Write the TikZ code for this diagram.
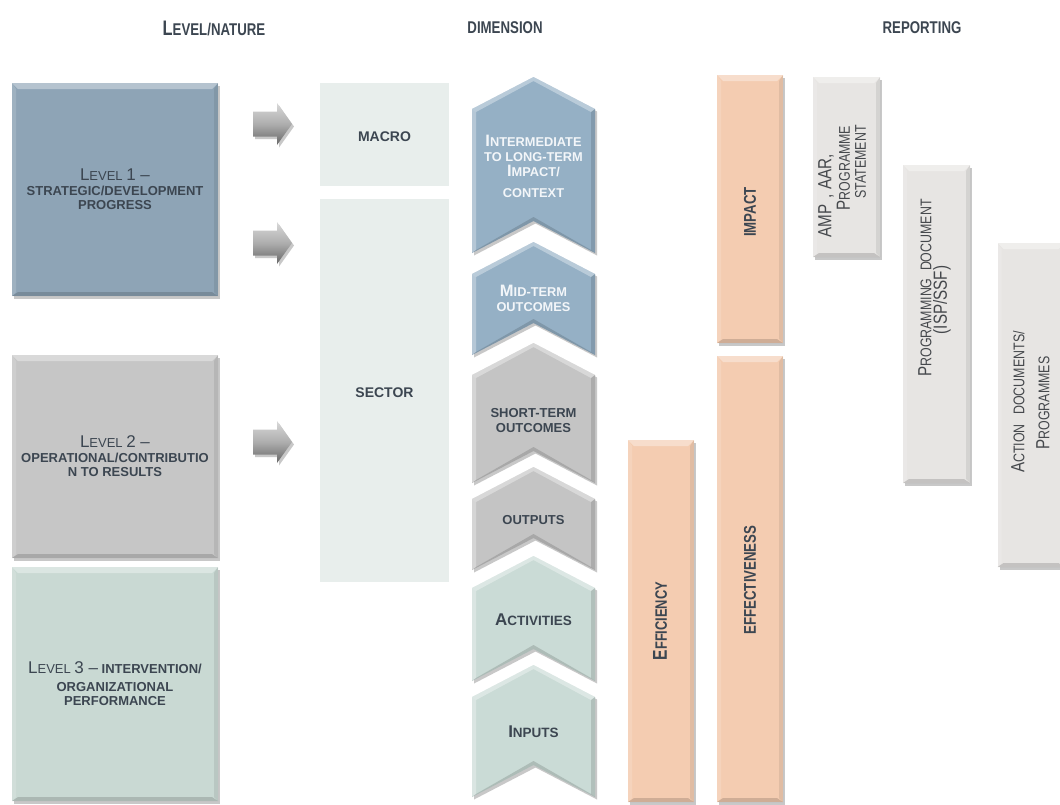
\documentclass[tikz,border=0pt]{standalone}
\usepackage{fontspec}
\setmainfont{Liberation Sans}
\newfontfamily\condf{Liberation Sans}[FakeStretch=0.78]
\newfontfamily\repf{Liberation Sans}[FakeStretch=0.8]
\usetikzlibrary{shadows}
\definecolor{txtc}{HTML}{3C4651}
\definecolor{lvA}{HTML}{8EA4B6}
\definecolor{lvB}{HTML}{C6C6C6}
\definecolor{lvC}{HTML}{C9D9D3}
\definecolor{pale}{HTML}{E8EEEC}
\definecolor{chA}{HTML}{95B0C5}
\definecolor{chB}{HTML}{C4C4C4}
\definecolor{chC}{HTML}{CADBD6}
\definecolor{peach}{HTML}{F4CCB1}
\definecolor{repc}{HTML}{E7E5E3}
\definecolor{reptxt}{HTML}{45484C}
\definecolor{whtxt}{HTML}{F3F6F9}
\newcommand\Cap[2]{{\fontsize{#1}{#1}\selectfont #2}}
\newcommand\chev[4]{%
  \fill[#3, shadowed] (472,#1+32) -- (533.5,#1) -- (595,#1+32) -- (595,#2) -- (533.5,#2-32) -- (472,#2) -- cycle;
  \fill[white,opacity=.35] (472,#1+32) -- (533.5,#1) -- (595,#1+32) -- (591,#1+35) -- (533.5,#1+4) -- (476,#1+35) -- cycle;
  \fill[white,opacity=.3] (472,#1+32) -- (476,#1+35) -- (476,#2-3) -- (472,#2) -- cycle;
  \fill[black,opacity=.12] (595,#1+32) -- (591,#1+35) -- (591,#2-3) -- (595,#2) -- cycle;
  \fill[black,opacity=.14] (472,#2) -- (533.5,#2-32) -- (595,#2) -- (591,#2-3) -- (533.5,#2-36) -- (476,#2-3) -- cycle;
  \coordinate (#4) at (533.5,{(#1+#2)/2});}
\newcommand\garrow[2]{%
  \path[garr] (253,#1-12.5) -- (277,#1-12.5) -- (277,#1-21) -- (292,#1) -- (277,#1+21) -- (277,#1+12.5) -- (253,#1+12.5) -- cycle;
  \coordinate (#2) at (272,#1);}
\tikzset{
  shadowed/.style={drop shadow={shadow xshift=2pt, shadow yshift=-2.5pt, opacity=.3, fill=black!70}},
  bevel/.style={path picture={
    \fill[white,opacity=.35] (path picture bounding box.north west) -- (path picture bounding box.north east) -- ([xshift=-6pt,yshift=-6pt]path picture bounding box.north east) -- ([xshift=6pt,yshift=-6pt]path picture bounding box.north west) -- cycle;
    \fill[black,opacity=.15] (path picture bounding box.south west) -- (path picture bounding box.south east) -- ([xshift=-6pt,yshift=4pt]path picture bounding box.south east) -- ([xshift=6pt,yshift=4pt]path picture bounding box.south west) -- cycle;
    \fill[black,opacity=.08] (path picture bounding box.north east) -- (path picture bounding box.south east) -- ([xshift=-4pt,yshift=4pt]path picture bounding box.south east) -- ([xshift=-4pt,yshift=-6pt]path picture bounding box.north east) -- cycle;
    \fill[white,opacity=.15] (path picture bounding box.north west) -- (path picture bounding box.south west) -- ([xshift=4pt,yshift=4pt]path picture bounding box.south west) -- ([xshift=4pt,yshift=-6pt]path picture bounding box.north west) -- cycle;
  }},
  lvl/.style={inner sep=0pt, outer sep=0pt, minimum width=206pt, align=center, text=txtc,
    font=\fontsize{13}{14.5}\selectfont\bfseries, shadowed, bevel},
  palebox/.style={inner sep=0pt, outer sep=0pt, minimum width=129pt, fill=pale, text=txtc,
    font=\fontsize{14}{16}\selectfont\bfseries},
  bar/.style={inner sep=0pt, outer sep=0pt, minimum width=66pt, fill=peach, shadowed, bevel},
  repbox/.style={inner sep=0pt, outer sep=0pt, minimum width=67pt, fill=repc, shadowed, bevel},
  lab/.style={inner sep=0pt, align=center, text=txtc},
  wlab/.style={inner sep=0pt, align=center, text=whtxt, font=\fontsize{12.8}{15}\selectfont\bfseries},
  dlab/.style={inner sep=0pt, align=center, text=txtc, font=\fontsize{13}{15}\selectfont\bfseries},
  rot/.style={inner sep=0pt, rotate=90, text=txtc, font=\condf\fontsize{17}{19}\selectfont\bfseries},
  rep/.style={inner sep=0pt, rotate=90, text=reptxt, font=\repf\fontsize{15.5}{17}\selectfont},
  hdr/.style={inner sep=0pt, text=txtc, font=\condf\fontsize{17}{19}\selectfont\bfseries},
  garr/.style={top color=black!15, bottom color=black!60, middle color=black!32, shadowed},
}
\begin{document}
\begin{tikzpicture}[x=1pt,y=-1pt]
\useasboundingbox (0,0) rectangle (1060,804);
\fill[white] (0,0) rectangle (1060,804);

% headers
\node[hdr] (h1) at (214,28) {\Cap{21}{L}EVEL/NATURE};
\node[hdr] (h2) at (505,28) {DIMENSION};
\node[hdr] (h3) at (922,28) {REPORTING};

% level boxes
\node[lvl, fill=lvA, minimum height=213pt] (l1) at (115,189.5)
  {{\mdseries\Cap{17}{L}EVEL \Cap{17}{1 –}}\\STRATEGIC/DEVELOPMENT\\PROGRESS};
\node[lvl, fill=lvB, minimum height=203pt] (l2) at (115,456.5)
  {{\mdseries\Cap{17}{L}EVEL \Cap{17}{2 –}}\\OPERATIONAL/CONTRIBUTIO\\N TO RESULTS};
\node[lvl, fill=lvC, minimum height=234pt] (l3) at (115,684)
  {{\mdseries\Cap{17}{L}EVEL \Cap{17}{3 –}} INTERVENTION/\\[3pt]ORGANIZATIONAL\\PERFORMANCE};

% arrows
\garrow{124}{a1}
\garrow{243}{a2}
\garrow{442}{a3}

% macro / sector
\node[palebox, minimum height=103pt] (macro) at (384.5,134.5) {};
\node[lab, font=\fontsize{14}{16}\selectfont\bfseries] (macrot) at (384.5,137) {MACRO};
\node[palebox, minimum height=383pt] (sector) at (384.5,390.5) {};
\node[lab, font=\fontsize{14}{16}\selectfont\bfseries] (sectort) at (384.5,393) {SECTOR};

% chevrons
\chev{77}{253}{chA}{c1}
\chev{242}{355}{chA}{c2}
\chev{343}{483}{chB}{c3}
\chev{467}{570}{chB}{c4}
\chev{556}{681}{chC}{c5}
\chev{665}{797}{chC}{c6}
\node[wlab] (t1) at (533.5,166) {\Cap{16.5}{I}NTERMEDIATE\\TO LONG-TERM\\\Cap{16.5}{I}MPACT/\\[6pt]CONTEXT};
\node[wlab] (t2) at (533.5,298) {\Cap{16.5}{M}ID-TERM\\OUTCOMES};
\node[dlab] (t3) at (533.5,421) {SHORT-TERM\\OUTCOMES};
\node[dlab] (t4) at (533.5,520) {OUTPUTS};
\node[dlab, font=\fontsize{13.5}{15}\selectfont\bfseries] (t5) at (533.5,620) {\Cap{17}{A}CTIVITIES};
\node[dlab, font=\fontsize{13.5}{15}\selectfont\bfseries] (t6) at (533.5,732) {\Cap{17}{I}NPUTS};

% peach bars
\node[bar, minimum height=268pt] (impact) at (750,209) {};
\node[rot] (impactt) at (750,212) {IMPACT};
\node[bar, minimum height=446pt] (effect) at (750,579) {};
\node[rot] (effectt) at (750,580) {EFFECTIVENESS};
\node[bar, minimum height=362pt] (effic) at (661,621) {};
\node[rot, font=\condf\fontsize{16.5}{18}\selectfont\bfseries] (effict) at (660,621) {\Cap{20}{E}FFICIENCY};

% reporting boxes
\node[repbox, minimum height=180pt] (amp) at (846.5,167) {};
\node[rep, font=\repf\fontsize{19}{21}\selectfont] (ampA) at (826,196) {AMP\hspace{2pt} , AAR,};
\node[rep] (ampB) at (843.5,168) {\Cap{19}{P}ROGRAMME};
\node[rep] (ampC) at (860.5,162) {STATEMENT};

\node[repbox, minimum height=318pt] (prog) at (936.5,324) {};
\node[rep] (progA) at (925,288) {\Cap{19}{P}ROGRAMMING\hspace{4pt} DOCUMENT};
\node[rep, font=\repf\fontsize{19}{21}\selectfont] (progB) at (942,300) {(ISP/SSF)};

\node[repbox, minimum height=324pt] (act) at (1031,405) {};
\node[rep] (actA) at (1018,402) {\Cap{19}{A}CTION\hspace{6pt} DOCUMENTS/};
\node[rep] (actB) at (1043,403) {\Cap{19}{P}ROGRAMMES};
\end{tikzpicture}
\end{document}
